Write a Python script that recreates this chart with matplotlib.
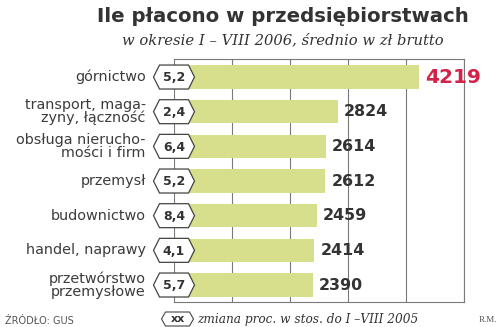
import matplotlib.pyplot as plt
from matplotlib.patches import Polygon

# dane
branze = ["górnictwo", "transport, maga-\nzyny, łączność", "obsługa nierucho-\nmości i firm",
          "przemysł", "budownictwo", "handel, naprawy", "przetwórstwo\nprzemysłowe"]
placa = [4219, 2824, 2614, 2612, 2459, 2414, 2390]
zmiana = ["5,2", "2,4", "6,4", "5,2", "8,4", "4,1", "5,7"]

bar_col = "#d7df8c"
txt_col = "#333333"
red = "#d3234a"
grid_col = "#7a7a7a"

fig = plt.figure(figsize=(5, 3.27), dpi=100)
ax = fig.add_axes([174 / 500, 1 - 302 / 327, 290 / 500, 243 / 327])

y = list(range(len(branze)))
ax.barh(y, placa, height=0.67, color=bar_col, zorder=2)
ax.set_xlim(0, 5000)
ax.set_ylim(6.49, -0.52)
ax.set_xticks(range(0, 5001, 1000))
ax.grid(axis="x", color=grid_col, linewidth=0.8, zorder=1)
ax.set_axisbelow(True)
ax.tick_params(left=False, bottom=False, labelleft=False, labelbottom=False)
for s in ax.spines.values():
    s.set_color(grid_col)
    s.set_linewidth(0.8)
ax.spines["left"].set_visible(False)

# szesciokaty ze zmiana
px = 5000 / 290
py = 1 / 34.7
for i, (v, z, name) in enumerate(zip(placa, zmiana, branze)):
    hw, tip, hh = 20.5 * px, 14.5 * px, 12 * py
    hexa = Polygon([(-hw, i), (-tip, i - hh), (tip, i - hh), (hw, i), (tip, i + hh), (-tip, i + hh)],
                   closed=True, facecolor="white", edgecolor="#444444", linewidth=0.9,
                   clip_on=False, zorder=4)
    ax.add_patch(hexa)
    ax.text(0, i + 0.02, z, ha="center", va="center", fontsize=9, fontweight="bold",
            color=txt_col, family="DejaVu Sans", zorder=5)
    ax.text(-0.097, i, name, transform=ax.get_yaxis_transform(), ha="right", va="center",
            fontsize=10.4, color="#3c3c3c", family="DejaVu Sans", linespacing=0.92)
    big = i == 0
    ax.annotate(str(v), (v, i), xytext=(4.5, 0), textcoords="offset points", va="center",
                ha="left", fontsize=14.5 if big else 11.4, fontweight="bold",
                color=red if big else txt_col, family="DejaVu Sans", zorder=5)

fig.text(283 / 500, 1 - 16 / 327, "Ile płacono w przedsiębiorstwach", ha="center", va="center",
         fontsize=14.2, fontweight="bold", color=txt_col, family="DejaVu Sans")
fig.text(283 / 500, 1 - 40 / 327, "w okresie I – VIII 2006, średnio w zł brutto", ha="center",
         va="center", fontsize=10.6, style="italic", color=txt_col, family="DejaVu Serif")

# stopka
fig.text(5 / 500, 1 - 321 / 327, "ŹRÓDŁO: GUS", ha="left", va="center", fontsize=7,
         color="#555555", family="Liberation Sans Narrow")
lx, ly, lw, lh, lt = 177.5 / 500, 1 - 319 / 327, 16 / 500, 7 / 327, 12 / 500
fig.patches.append(Polygon([(lx - lw, ly), (lx - lt, ly - lh), (lx + lt, ly - lh), (lx + lw, ly),
                            (lx + lt, ly + lh), (lx - lt, ly + lh)], closed=True,
                           transform=fig.transFigure, facecolor="white", edgecolor="#444444",
                           linewidth=0.8))
fig.text(lx, ly, "xx", ha="center", va="center", fontsize=8, fontweight="bold", color=txt_col,
         family="DejaVu Sans")
fig.text(197 / 500, ly, "zmiana proc. w stos. do I –VIII 2005", ha="left", va="center",
         fontsize=8.7, style="italic", color=txt_col, family="DejaVu Serif")
fig.text(497 / 500, 1 - 320 / 327, "R.M.", ha="right", va="center", fontsize=6.5,
         color="#555555", family="Liberation Serif")

fig.savefig("out.png", dpi=100)
